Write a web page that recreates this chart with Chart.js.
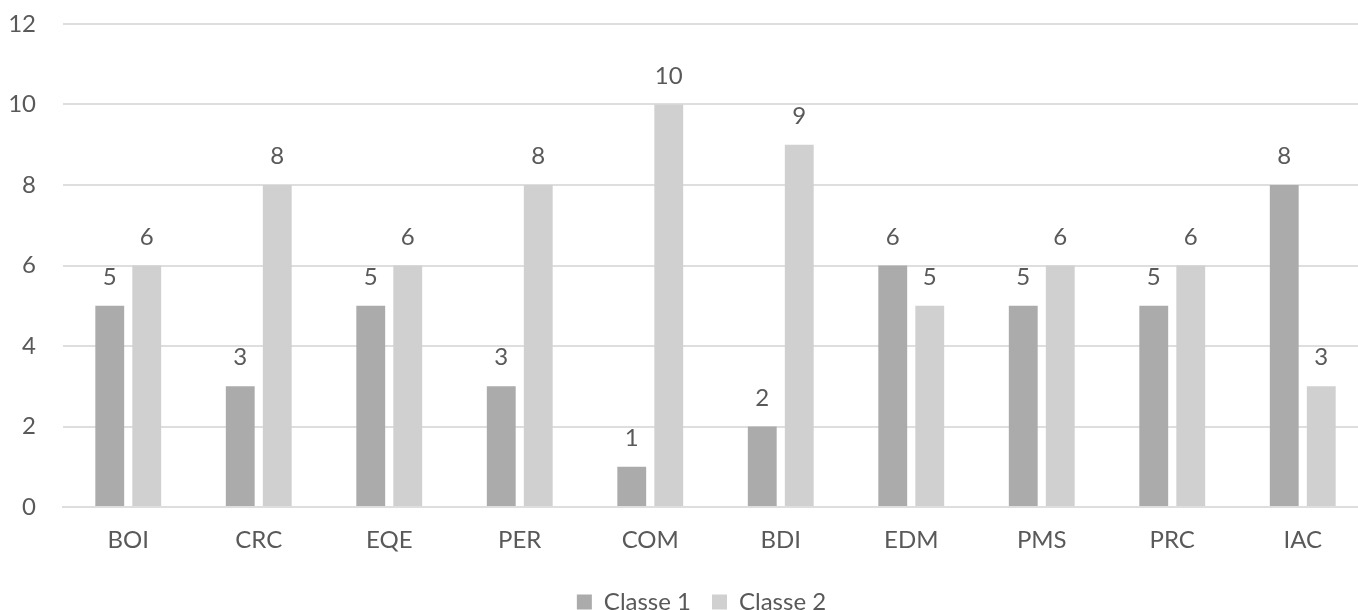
<!DOCTYPE html>
<html>
<head>
<meta charset="utf-8">
<script src="https://cdn.jsdelivr.net/npm/chart.js@4/dist/chart.umd.min.js"></script>
<style>
  html, body { margin: 0; padding: 0; background: #ffffff; overflow: hidden; }
  #wrap { position: relative; width: 1403px; height: 624px; }
</style>
</head>
<body>
<div id="wrap"><canvas id="chart"></canvas></div>
<script>
const categories = ['BOI', 'CRC', 'EQE', 'PER', 'COM', 'BDI', 'EDM', 'PMS', 'PRC', 'IAC'];
const classe1 = [5, 3, 5, 3, 1, 2, 6, 5, 5, 8];
const classe2 = [6, 8, 6, 8, 10, 9, 5, 6, 6, 3];
const seriesNames = ['Classe 1', 'Classe 2'];
const yTicks = [0, 2, 4, 6, 8, 10, 12];

const FONT = 'Lato, "Open Sans", sans-serif';
const TEXT = '#595959';

// Value labels drawn above each bar
const valueLabels = {
  id: 'valueLabels',
  afterDatasetsDraw(chart) {
    const ctx = chart.ctx;
    ctx.save();
    ctx.font = '24px ' + FONT;
    ctx.fillStyle = TEXT;
    ctx.textAlign = 'center';
    ctx.textBaseline = 'alphabetic';
    chart.data.datasets.forEach((ds, i) => {
      chart.getDatasetMeta(i).data.forEach((bar, j) => {
        ctx.fillText(String(ds.data[j]), bar.x, bar.y - 21);
      });
    });
    ctx.restore();
  }
};

new Chart(document.getElementById('chart'), {
  type: 'bar',
  data: {
    labels: categories,
    datasets: [
      { label: seriesNames[0], data: classe1, backgroundColor: '#ababab',
        categoryPercentage: 0.567, barPercentage: 0.78 },
      { label: seriesNames[1], data: classe2, backgroundColor: '#d0d0d0',
        categoryPercentage: 0.567, barPercentage: 0.78 }
    ]
  },
  options: {
    responsive: true,
    maintainAspectRatio: false,
    animation: false,
    layout: { padding: { top: 24, left: 0, right: 0, bottom: 0 } },
    plugins: {
      legend: {
        position: 'bottom',
        labels: {
          boxWidth: 15, boxHeight: 15, padding: 21,
          color: TEXT, font: { family: FONT, size: 24 }
        }
      },
      tooltip: { enabled: false }
    },
    scales: {
      x: {
        grid: { display: false, drawTicks: false },
        border: { display: true, color: '#dedede', width: 2 },
        ticks: { color: TEXT, font: { family: FONT, size: 24 }, padding: 19 },
        afterFit(scale) { scale.height = 62; }
      },
      y: {
        min: 0, max: 12,
        afterBuildTicks(scale) { scale.ticks = yTicks.map(v => ({ value: v })); },
        grid: { color: '#dedede', lineWidth: 2, drawTicks: false },
        border: { display: false },
        ticks: { color: TEXT, font: { family: FONT, size: 24 }, padding: 27 },
        afterFit(scale) {
          scale.width = 63;
          scale.paddingTop = 0;
          scale.paddingBottom = 0;
        }
      },
      yRight: {
        position: 'right',
        display: true,
        grid: { display: false, drawTicks: false },
        border: { display: false },
        ticks: { display: false },
        afterFit(scale) { scale.width = 35; }
      }
    }
  },
  plugins: [valueLabels]
});
</script>
</body>
</html>
